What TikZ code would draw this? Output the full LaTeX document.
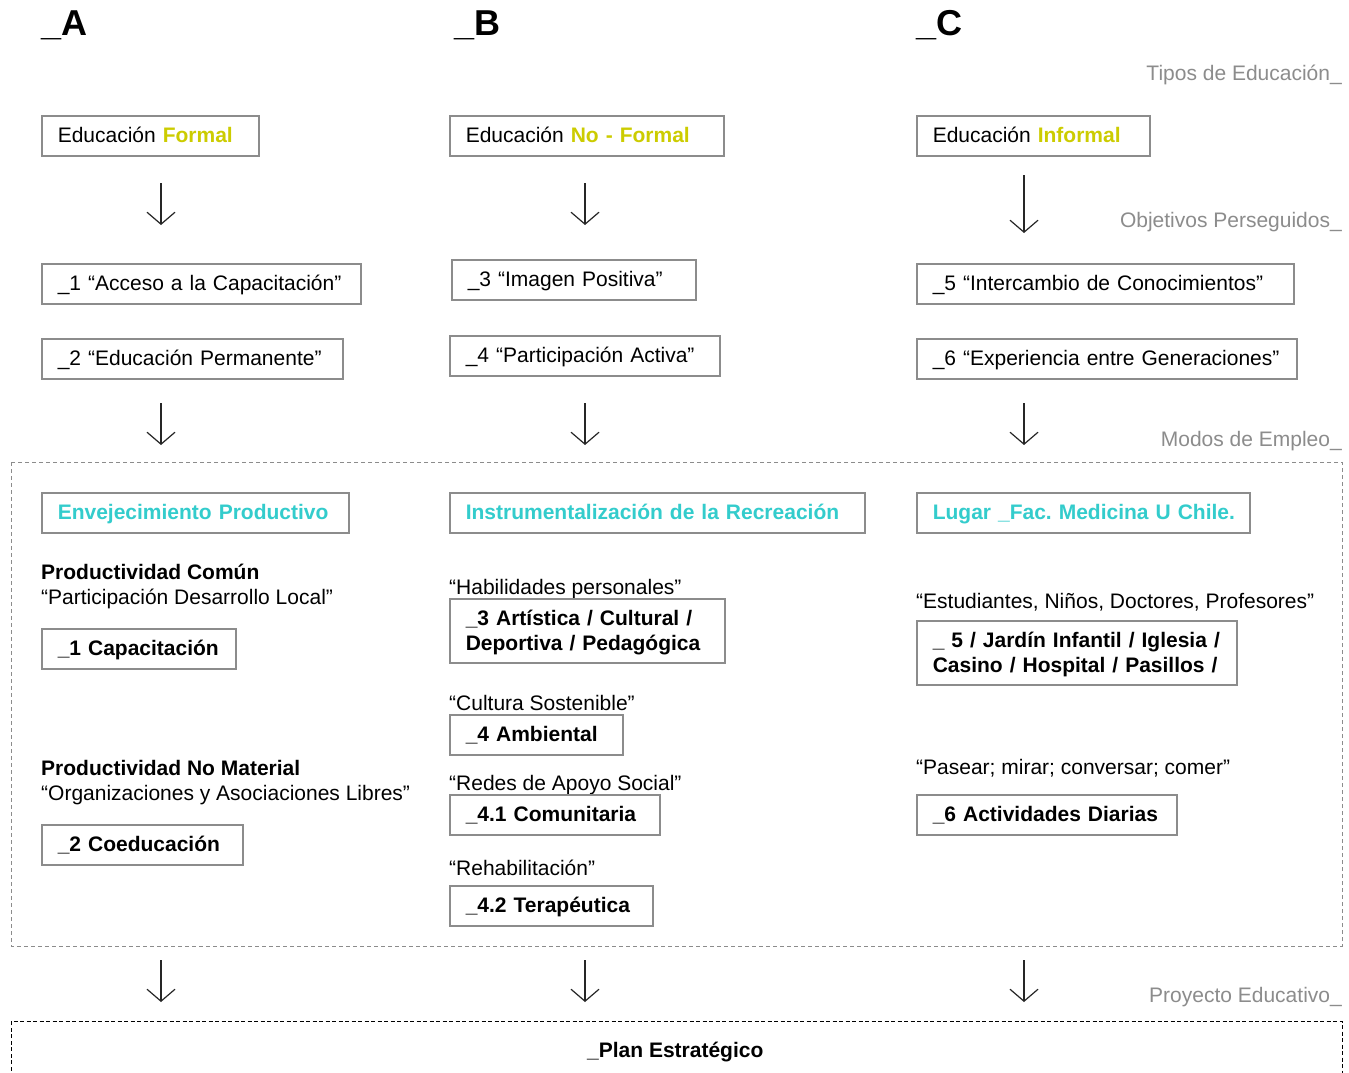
\documentclass[tikz,border=0pt]{standalone}
\usepackage{fontspec}
\setmainfont{Liberation Sans}
\usetikzlibrary{arrows.meta}
\definecolor{boxgray}{RGB}{140,140,140}
\definecolor{labgray}{RGB}{140,140,140}
\definecolor{ylw}{RGB}{204,204,0}
\definecolor{cyn}{RGB}{51,204,204}
\newcommand{\fsn}{\fontsize{21pt}{24.5pt}\selectfont\frenchspacing}
\begin{document}
\begin{tikzpicture}[x=1pt,y=-1pt,
  bx/.style={draw=boxgray, line width=1.5pt, inner xsep=16pt, inner ysep=0pt,
    minimum height=40pt, text height=17pt, text depth=3pt, anchor=north west, align=left, font=\fsn},
  two/.style={minimum height=64pt, text height=19pt, text depth=29pt},
  bxb/.style={bx, font=\fsn\bfseries},
  bxc/.style={bx, font=\fsn\bfseries, text=cyn},
  txt/.style={anchor=base west, inner sep=0pt, font=\fsn},
  txtb/.style={txt, font=\fsn\bfseries},
  hdr/.style={anchor=base west, inner sep=0pt, font=\fontsize{36pt}{40pt}\selectfont\bfseries},
  lab/.style={anchor=base east, inner sep=0pt, font=\fsn, text=labgray},
  arr/.style={draw=black!85, line width=1.2pt, -{Straight Barb[length=12pt,width=28pt,line width=1.2pt]}}
]
\useasboundingbox (0,0) rectangle (1349,1073);
\fill[white] (0,0) rectangle (1349,1073);

% headers
\node[hdr] (hA) at (41,36) {\_A};
\node[hdr] (hB) at (454,36) {\_B};
\node[hdr] (hC) at (916,36) {\_C};

% gray labels
\node[lab] (l1) at (1342,81) {Tipos de Educación\_};
\node[lab] (l2) at (1342,227) {Objetivos Perseguidos\_};
\node[lab] (l3) at (1342,446) {Modos de Empleo\_};
\node[lab] (l4) at (1342,1002) {Proyecto Educativo\_};

% row 1
\node[bx, text width=185pt] (a1) at (41,115) {\mbox{Educación \textcolor{ylw}{\bfseries Formal}}};
\node[bx, text width=242pt] (b1) at (449,115) {\mbox{Educación \textcolor{ylw}{\bfseries No - Formal}}};
\node[bx, text width=201pt] (c1) at (916,115) {\mbox{Educación \textcolor{ylw}{\bfseries Informal}}};

% arrows 1
\coordinate (pa1) at (161,183); \coordinate (qa1) at (161,225);
\coordinate (pb1) at (585,183); \coordinate (qb1) at (585,225);
\coordinate (pc1) at (1024,175); \coordinate (qc1) at (1024,233);
\draw[arr] (pa1) -- (qa1);
\draw[arr] (pb1) -- (qb1);
\draw[arr] (pc1) -- (qc1);

% row 2
\node[bx, text width=287pt] (a2) at (41,263) {\mbox{\_1 “Acceso a la Capacitación”}};
\node[bx, text width=212pt] (b2) at (451,259) {\mbox{\_3 “Imagen Positiva”}};
\node[bx, text width=345pt] (c2) at (916,263) {\mbox{\_5 “Intercambio de Conocimientos”}};

% row 3
\node[bx, text width=269pt] (a3) at (41,338) {\mbox{\_2 “Educación Permanente”}};
\node[bx, text width=238pt] (b3) at (449,335) {\mbox{\_4 “Participación Activa”}};
\node[bx, text width=348pt] (c3) at (916,338) {\mbox{\_6 “Experiencia entre Generaciones”}};

% arrows 2
\coordinate (pa2) at (161,403); \coordinate (qa2) at (161,445);
\coordinate (pb2) at (585,403); \coordinate (qb2) at (585,445);
\coordinate (pc2) at (1024,403); \coordinate (qc2) at (1024,445);
\draw[arr] (pa2) -- (qa2);
\draw[arr] (pb2) -- (qb2);
\draw[arr] (pc2) -- (qc2);

% dashed frame
\draw[draw=black!45, line width=1pt, dash pattern=on 4pt off 3pt] (11,462) rectangle (1342,946);

% cyan boxes
\node[bxc, text width=275pt] (a4) at (41,492) {\mbox{Envejecimiento Productivo}};
\node[bxc, text width=383pt] (b4) at (449,492) {\mbox{Instrumentalización de la Recreación}};
\node[bxc, text width=301pt] (c4) at (916,492) {\mbox{Lugar \_Fac. Medicina U Chile.}};

% column A
\node[txtb] (ta1) at (41,579) {Productividad Común};
\node[txt] (ta2) at (41,604) {“Participación Desarrollo Local”};
\node[bxb, text width=162pt] (a5) at (41,628) {\mbox{\_1 Capacitación}};
\node[txtb] (ta3) at (41,775) {Productividad No Material};
\node[txt] (ta4) at (41,800) {“Organizaciones y Asociaciones Libres”};
\node[bxb, text width=169pt] (a6) at (41,824) {\mbox{\_2 Coeducación}};

% column B
\node[txt] (tb1) at (449,594) {“Habilidades personales”};
\node[bxb, two, text width=243pt] (b5) at (449,598) {\mbox{\_3 Artística / Cultural /}\\\mbox{Deportiva / Pedagógica}};
\node[txt] (tb2) at (449,710) {“Cultura Sostenible”};
\node[bxb, text width=141pt] (b6) at (449,714) {\mbox{\_4 Ambiental}};
\node[txt] (tb3) at (449,790) {“Redes de Apoyo Social”};
\node[bxb, text width=178pt] (b7) at (449,794) {\mbox{\_4.1 Comunitaria}};
\node[txt] (tb4) at (449,875) {“Rehabilitación”};
\node[bxb, text width=171pt] (b8) at (449,885) {\mbox{\_4.2 Terapéutica}};

% column C
\node[txt] (tc1) at (916,608) {“Estudiantes, Niños, Doctores, Profesores”};
\node[bxb, two, text width=288pt] (c5) at (916,620) {\mbox{\_ 5 / Jardín Infantil / Iglesia /}\\\mbox{Casino / Hospital / Pasillos /}};
\node[txt] (tc2) at (916,774) {“Pasear; mirar; conversar; comer”};
\node[bxb, text width=228pt] (c6) at (916,794) {\mbox{\_6 Actividades Diarias}};

% arrows 3
\coordinate (pa3) at (161,960); \coordinate (qa3) at (161,1002);
\coordinate (pb3) at (585,960); \coordinate (qb3) at (585,1002);
\coordinate (pc3) at (1024,960); \coordinate (qc3) at (1024,1002);
\draw[arr] (pa3) -- (qa3);
\draw[arr] (pb3) -- (qb3);
\draw[arr] (pc3) -- (qc3);

% bottom frame
\draw[draw=black, line width=1pt, dash pattern=on 4pt off 2.5pt] (11,1090) -- (11,1021) -- (1342,1021) -- (1342,1090);
\node[txtb] (plan) at (587,1057) {\_Plan Estratégico};
\end{tikzpicture}
\end{document}
